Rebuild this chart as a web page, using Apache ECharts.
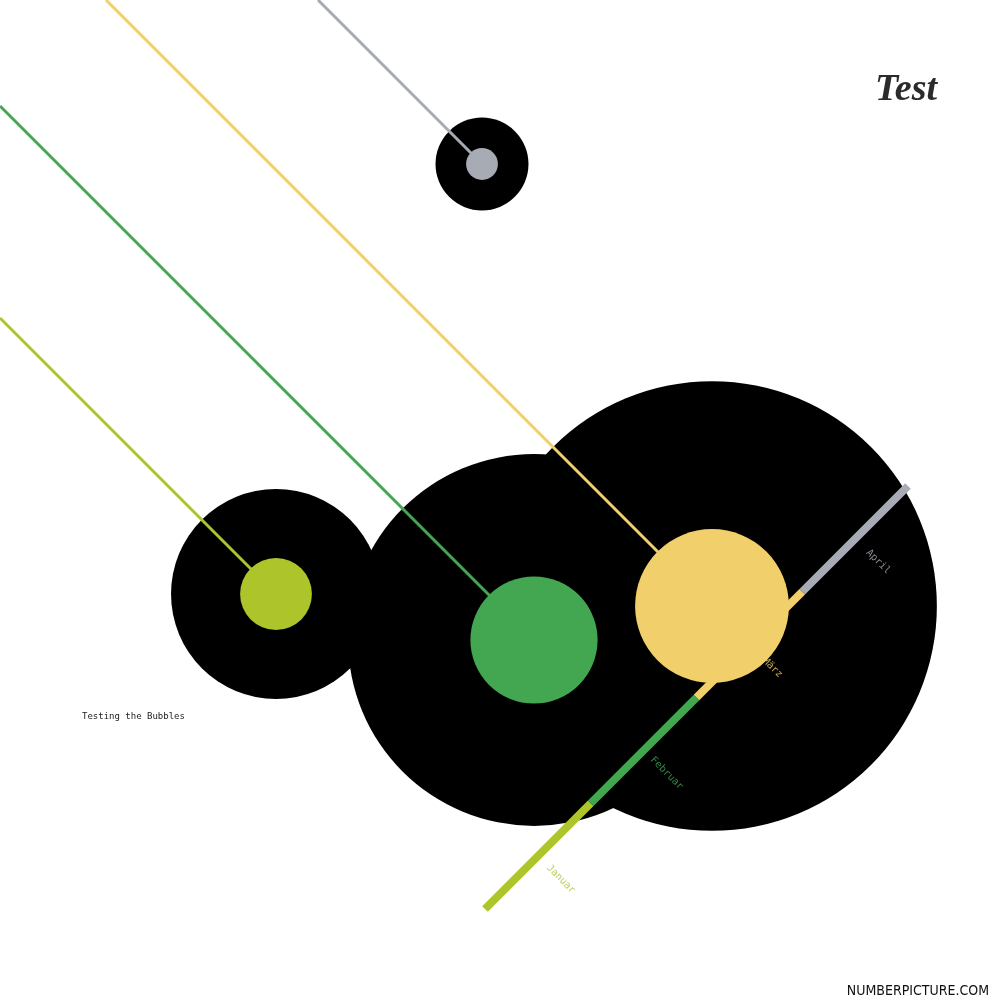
<!DOCTYPE html>
<html>
<head>
<meta charset="utf-8">
<script src="https://cdn.jsdelivr.net/npm/echarts@6/dist/echarts.min.js"></script>
<style>
html,body{margin:0;padding:0;background:#fff}
#main{width:1000px;height:1000px}
</style>
</head>
<body>
<div id="main"></div>
<script>
// months and the bubble value for each one
var months = ['Januar','Februar','März','April']
var values = [51,160,234,10]
// bubble centres on a 0..100 plane (y runs downward)
var posX = [27.6,53.4,71.2,48.2]
var posY = [59.4,64.0,60.6,16.4]
var colors = ['#adc42b','#42a750','#f1cf6b','#a7abb4']
// the diagonal month axis, from first to last month
var axisFrom = [48.5,90.9]
var axisTo = [90.8,48.6]

var sizeK = 29.4        // px diameter per sqrt(value)
var innerRatio = 0.342  // inner dot vs outer ring

var chart = echarts.init(document.getElementById('main'))

var outer = [], inner = [], connectors = [], segments = [], labels = []
var n = months.length
for (var i = 0; i < n; i++) {
  var d = sizeK * Math.sqrt(values[i])
  outer.push({value:[posX[i],posY[i]], symbolSize:d})
  inner.push({value:[posX[i],posY[i]], symbolSize:d*innerRatio, itemStyle:{color:colors[i]}})
  var t = Math.min(posX[i],posY[i])
  connectors.push({coords:[[posX[i],posY[i]],[posX[i]-t,posY[i]-t]], lineStyle:{color:colors[i]}})
  var a = [axisFrom[0]+(axisTo[0]-axisFrom[0])*i/n, axisFrom[1]+(axisTo[1]-axisFrom[1])*i/n]
  var b = [axisFrom[0]+(axisTo[0]-axisFrom[0])*(i+1)/n, axisFrom[1]+(axisTo[1]-axisFrom[1])*(i+1)/n]
  segments.push({coords:[a,b], lineStyle:{color:colors[i]}})
  labels.push({value:[(a[0]+b[0])/2+2.3,(a[1]+b[1])/2+2.3], name:months[i],
    label:{color:colors[i]}})
}

var option = {
  animation:false,
  backgroundColor:'#fff',
  title:[
    {text:'Test', right:58, top:66,
      textStyle:{fontFamily:'Liberation Serif', fontStyle:'italic', fontWeight:'bold', fontSize:38, color:'#2b2b2b'}},
    {text:'Testing the Bubbles', left:77, top:707,
      textStyle:{fontFamily:'DejaVu Sans Mono', fontWeight:'normal', fontSize:9, color:'#222'}},
    {text:'NUMBERPICTURE.COM', right:6, top:979,
      textStyle:{fontFamily:'"DejaVu Sans Condensed", "Liberation Sans", sans-serif', fontWeight:'normal', fontSize:14, color:'#111'}}
  ],
  grid:{left:0,right:0,top:0,bottom:0},
  xAxis:{type:'value', min:0, max:100, show:false},
  yAxis:{type:'value', min:0, max:100, inverse:true, show:false},
  series:[
    {type:'scatter', z:1, silent:true, symbol:'circle', data:outer,
      itemStyle:{color:'#000', opacity:1}},
    {type:'lines', z:2, silent:true, coordinateSystem:'cartesian2d', data:connectors,
      lineStyle:{width:3, opacity:1, curveness:0}},
    {type:'lines', z:3, silent:true, coordinateSystem:'cartesian2d', data:segments,
      lineStyle:{width:8, opacity:1, curveness:0, cap:'butt'}},
    {type:'scatter', z:4, silent:true, symbolSize:0, data:labels,
      label:{show:true, position:'inside', rotate:-45, formatter:'{b}',
        fontFamily:'DejaVu Sans Mono', fontSize:10}},
    {type:'scatter', z:5, silent:true, symbol:'circle', data:inner,
      itemStyle:{opacity:1}}
  ]
}
chart.setOption(option)
</script>
</body>
</html>
